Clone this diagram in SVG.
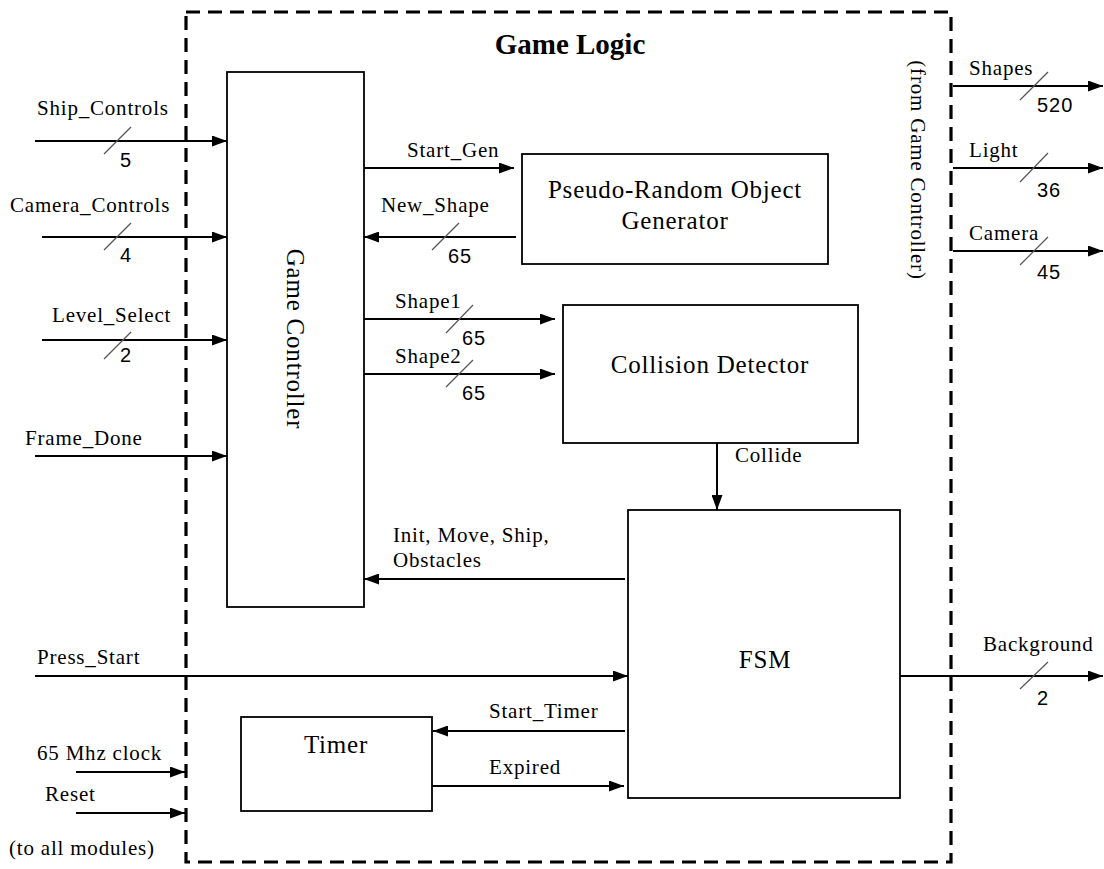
<svg xmlns="http://www.w3.org/2000/svg" width="1104" height="869" viewBox="0 0 1104 869">
<style>
.t{font-family:"Liberation Serif","Times New Roman",serif;font-size:21px;letter-spacing:0.8px;fill:#000}
.b{font-family:"Liberation Serif","Times New Roman",serif;font-size:25px;letter-spacing:0.8px;fill:#000}
.n{font-family:"Liberation Sans",Arial,sans-serif;font-size:20px;letter-spacing:1px;fill:#000}
.box{fill:#fff;stroke:#000;stroke-width:1.8}
.w{stroke:#000;stroke-width:2;fill:none}
.a{stroke:#000;stroke-width:2;fill:none;marker-end:url(#ah)}
.s{stroke:#555;stroke-width:1.2}
</style>
<defs>
<marker id="ah" markerUnits="userSpaceOnUse" markerWidth="15" markerHeight="11" refX="15" refY="5.5" orient="auto">
<path d="M0,0 L15,5.5 L0,11 z" fill="#000"/>
</marker>
</defs>
<rect width="1104" height="869" fill="#fff"/>
<g id="game-logic">
<rect x="186" y="12" width="765" height="850" fill="none" stroke="#000" stroke-width="3.2" stroke-dasharray="14 8"/>
<text x="570" y="54" text-anchor="middle" font-family="Liberation Serif,serif" font-weight="bold" font-size="29" fill="#000">Game Logic</text>
<text class="t" transform="translate(911,170) rotate(90)" text-anchor="middle">(from Game Controller)</text>
</g>
<g id="game-controller">
<rect class="box" x="227" y="72" width="137" height="535"/>
<text class="b" transform="translate(287,339) rotate(90)" text-anchor="middle">Game Controller</text>
</g>
<g id="prng">
<rect class="box" x="522" y="154" width="306" height="110"/>
<text class="b" x="675" y="198" text-anchor="middle">Pseudo-Random Object</text>
<text class="b" x="675" y="229" text-anchor="middle">Generator</text>
</g>
<g id="collision">
<rect class="box" x="563" y="305" width="295" height="138"/>
<text class="b" x="710" y="373" text-anchor="middle">Collision Detector</text>
</g>
<g id="fsm">
<rect class="box" x="628" y="510" width="272" height="288"/>
<text class="b" x="765" y="668" text-anchor="middle">FSM</text>
</g>
<g id="timer">
<rect class="box" x="241" y="717" width="191" height="94"/>
<text class="b" x="336" y="753" text-anchor="middle">Timer</text>
</g>
<g id="connectors">
<line class="a" x1="35" y1="141" x2="227" y2="141"/>
<line class="s" x1="104" y1="154" x2="131" y2="127"/>
<text class="t" x="37" y="115">Ship_Controls</text>
<text class="n" x="120" y="167">5</text>
<line class="a" x1="42" y1="237" x2="227" y2="237"/>
<line class="s" x1="104" y1="250" x2="131" y2="223"/>
<text class="t" x="10" y="212">Camera_Controls</text>
<text class="n" x="120" y="262">4</text>
<line class="a" x1="42" y1="340" x2="227" y2="340"/>
<line class="s" x1="104" y1="359" x2="131" y2="332"/>
<text class="t" x="52" y="322">Level_Select</text>
<text class="n" x="120" y="362">2</text>
<line class="a" x1="35" y1="456" x2="227" y2="456"/>
<text class="t" x="25" y="445">Frame_Done</text>
<line class="a" x1="364" y1="168" x2="514" y2="168"/>
<text class="t" x="407" y="157">Start_Gen</text>
<line class="a" x1="516" y1="237" x2="364" y2="237"/>
<line class="s" x1="432" y1="250" x2="459" y2="223"/>
<text class="t" x="381" y="212">New_Shape</text>
<text class="n" x="448" y="263">65</text>
<line class="a" x1="364" y1="319" x2="555" y2="319"/>
<line class="s" x1="446" y1="333" x2="473" y2="305"/>
<text class="t" x="395" y="308">Shape1</text>
<text class="n" x="462" y="345">65</text>
<line class="a" x1="364" y1="374" x2="555" y2="374"/>
<line class="s" x1="446" y1="387" x2="473" y2="360"/>
<text class="t" x="395" y="363">Shape2</text>
<text class="n" x="462" y="400">65</text>
<line class="a" x1="717" y1="443" x2="717" y2="510"/>
<text class="t" x="735" y="462">Collide</text>
<line class="a" x1="625" y1="579" x2="364" y2="579"/>
<text class="t" x="393" y="542">Init, Move, Ship,</text>
<text class="t" x="393" y="567">Obstacles</text>
<line class="a" x1="35" y1="676" x2="628" y2="676"/>
<text class="t" x="37" y="664">Press_Start</text>
<line class="a" x1="900" y1="676" x2="1103" y2="676"/>
<line class="s" x1="1020" y1="689" x2="1048" y2="662"/>
<text class="t" x="983" y="651">Background</text>
<text class="n" x="1037" y="705">2</text>
<line class="a" x1="625" y1="731" x2="433" y2="731"/>
<text class="t" x="489" y="718">Start_Timer</text>
<line class="a" x1="432" y1="786" x2="624" y2="786"/>
<text class="t" x="489" y="774">Expired</text>
<line class="a" x1="76" y1="772" x2="185" y2="772"/>
<text class="t" x="37" y="760">65 Mhz clock</text>
<line class="a" x1="76" y1="813" x2="185" y2="813"/>
<text class="t" x="45" y="801">Reset</text>
<text class="t" x="9" y="855">(to all modules)</text>
<line class="a" x1="953" y1="86" x2="1103" y2="86"/>
<line class="s" x1="1020" y1="100" x2="1048" y2="72"/>
<text class="t" x="969" y="75">Shapes</text>
<text class="n" x="1037" y="112">520</text>
<line class="a" x1="953" y1="168" x2="1103" y2="168"/>
<line class="s" x1="1020" y1="182" x2="1048" y2="153"/>
<text class="t" x="969" y="157">Light</text>
<text class="n" x="1037" y="197">36</text>
<line class="a" x1="953" y1="251" x2="1103" y2="251"/>
<line class="s" x1="1020" y1="265" x2="1048" y2="237"/>
<text class="t" x="969" y="240">Camera</text>
<text class="n" x="1037" y="279">45</text>
</g>
</svg>
